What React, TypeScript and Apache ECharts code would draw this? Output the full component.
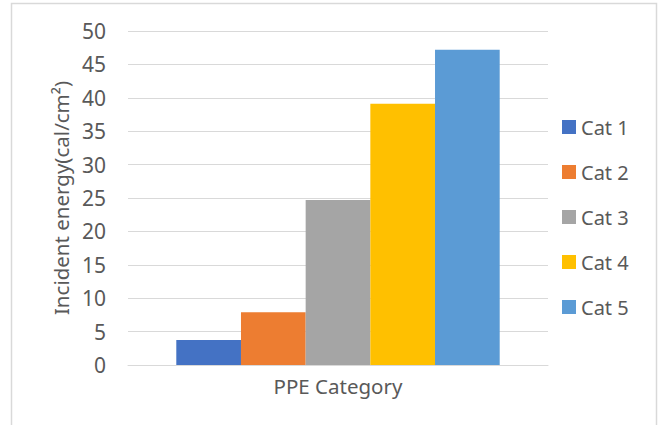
import React, { useEffect, useRef } from "react";
import * as echarts from "echarts";

const categories: string[] = ["PPE Category"];
const seriesNames: string[] = ["Cat 1", "Cat 2", "Cat 3", "Cat 4", "Cat 5"];
const seriesValues: number[] = [3.75, 7.9, 24.7, 39.1, 47.2];
const seriesColors: string[] = ["#4472C4", "#ED7D31", "#A5A5A5", "#FFC000", "#5B9BD5"];
const yTicks = { min: 0, max: 50, interval: 5 };
const yAxisTitle = "Incident energy(cal/cm²)";

const FONT = "'Noto Sans', 'Open Sans', sans-serif";
const TEXT = "#595959";
const GRID = "#d9d9d9";

export default function App() {
  const ref = useRef<HTMLDivElement>(null);

  useEffect(() => {
    if (!ref.current) return;
    const chart = echarts.init(ref.current, undefined, { renderer: "svg" });
    chart.setOption({
      animation: false,
      backgroundColor: "#ffffff",
      textStyle: { fontFamily: FONT },
      graphic: [
        {
          type: "rect",
          shape: { x: 11.5, y: 3.5, width: 645, height: 460 },
          style: { fill: "none", stroke: GRID, lineWidth: 1.5 },
          silent: true,
        },
      ],
      grid: { left: 128, right: 111, top: 31, bottom: 60, containLabel: false },
      legend: {
        orient: "vertical",
        left: 562,
        top: 117,
        padding: 0,
        itemWidth: 14,
        itemHeight: 14,
        itemGap: 25,
        icon: "rect",
        data: seriesNames,
        textStyle: { color: TEXT, fontSize: 20, fontFamily: FONT },
        selectedMode: false,
      },
      xAxis: {
        type: "category",
        data: categories,
        axisLine: { show: true, lineStyle: { color: GRID, width: 1 } },
        axisTick: { show: false },
        axisLabel: { color: TEXT, fontSize: 20.5, fontFamily: FONT, margin: 10 },
      },
      yAxis: {
        type: "value",
        min: yTicks.min,
        max: yTicks.max,
        interval: yTicks.interval,
        name: yAxisTitle,
        nameLocation: "middle",
        nameGap: 56,
        nameTextStyle: { color: TEXT, fontSize: 20.5, fontFamily: FONT },
        axisLine: { show: false },
        axisTick: { show: false },
        axisLabel: { color: TEXT, fontSize: 21, fontFamily: FONT, margin: 22 },
        splitLine: { lineStyle: { color: GRID, width: 1 } },
      },
      series: seriesNames.map((name, i) => ({
        name,
        type: "bar",
        data: [seriesValues[i]],
        itemStyle: { color: seriesColors[i] },
        barGap: "0%",
        barCategoryGap: "23%",
      })),
    });
    return () => chart.dispose();
  }, []);

  return (
    <div
      ref={ref}
      style={{ position: "absolute", left: 0, top: 0, width: 659, height: 425 }}
    />
  );
}
